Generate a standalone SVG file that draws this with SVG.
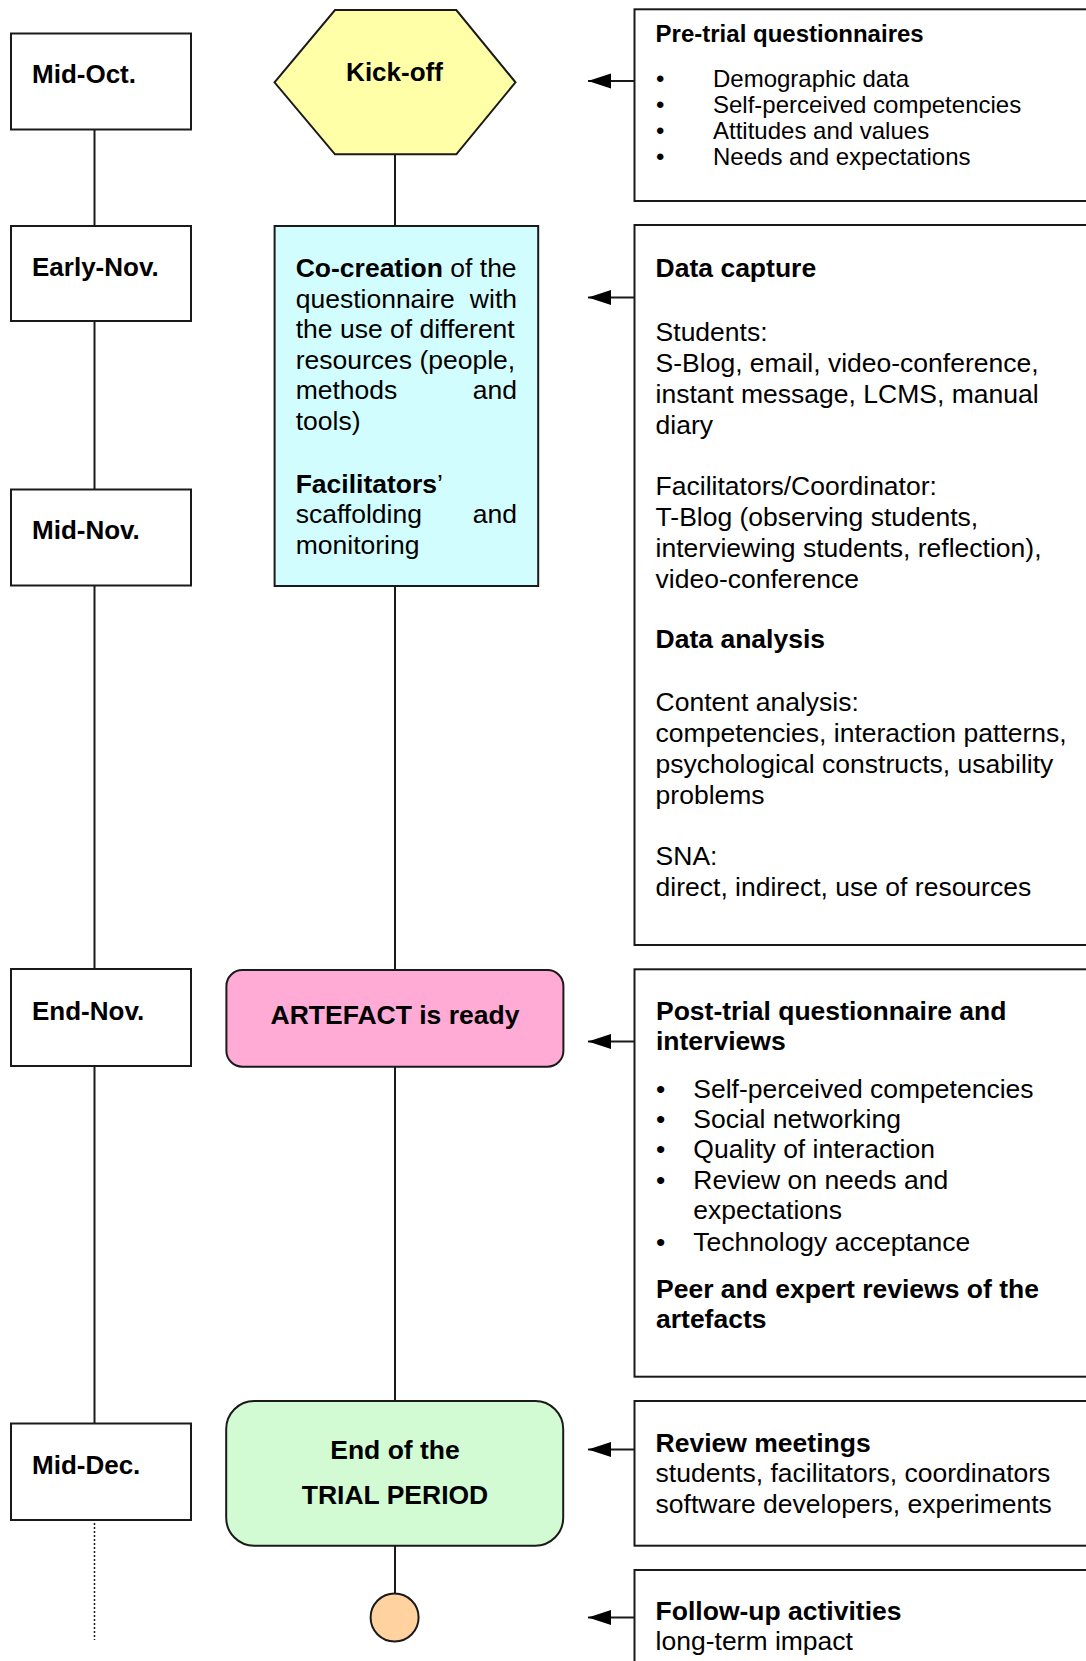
<svg xmlns="http://www.w3.org/2000/svg" width="1086" height="1661" viewBox="0 0 1086 1661">
  <defs>
    <style>
      .box { fill: #ffffff; stroke: #1a1a1a; stroke-width: 2; }
      .link { fill: none; stroke: #1a1a1a; stroke-width: 2; }
      .dotted { fill: none; stroke: #1a1a1a; stroke-width: 1.5; stroke-dasharray: 2 2; }
      .arrow { fill: none; stroke: #1a1a1a; stroke-width: 2; marker-end: url(#head); }
      text { font-family: "Liberation Sans", Arial, sans-serif; fill: #000000; }
      .date { font-size: 26px; font-weight: bold; }
      .title { font-size: 26.5px; font-weight: bold; }
      .body { font-size: 26.5px; }
      .small { font-size: 24px; }
      .smallb { font-size: 24px; font-weight: bold; }
      .b { font-weight: bold; }
      .mid { text-anchor: middle; }
      .end { text-anchor: end; }
    </style>
    <marker id="head" markerUnits="userSpaceOnUse" markerWidth="24" markerHeight="16" viewBox="0 0 24 16" refX="23" refY="8" orient="auto">
      <path d="M0,0.5 L23,8 L0,15.5 z" fill="#000000"/>
    </marker>
  </defs>

  <!-- connectors -->
  <g id="connectors">
    <!-- timeline on the left -->
    <line class="link" x1="94.5" y1="129.5" x2="94.5" y2="226"/>
    <line class="link" x1="94.5" y1="321" x2="94.5" y2="489.5"/>
    <line class="link" x1="94.5" y1="585.5" x2="94.5" y2="969"/>
    <line class="link" x1="94.5" y1="1066" x2="94.5" y2="1423.5"/>
    <line class="dotted" x1="94.5" y1="1523" x2="94.5" y2="1640"/>
    <!-- activity flow in the middle -->
    <line class="link" x1="395" y1="154" x2="395" y2="226"/>
    <line class="link" x1="395" y1="586" x2="395" y2="970"/>
    <line class="link" x1="395" y1="1067" x2="395" y2="1401"/>
    <line class="link" x1="395" y1="1546" x2="395" y2="1593.5"/>
    <!-- research activities pointing to the flow -->
    <line class="arrow" x1="634.5" y1="81" x2="588" y2="81"/>
    <line class="arrow" x1="634.5" y1="297.5" x2="588" y2="297.5"/>
    <line class="arrow" x1="634.5" y1="1041.5" x2="588" y2="1041.5"/>
    <line class="arrow" x1="634.5" y1="1449.5" x2="588" y2="1449.5"/>
    <line class="arrow" x1="634.5" y1="1617.5" x2="588" y2="1617.5"/>
  </g>

  <!-- dates -->
  <g id="date-mid-oct">
    <rect class="box" x="11" y="33.5" width="180" height="96"/>
    <text class="date" x="32" y="83">Mid-Oct.</text>
  </g>
  <g id="date-early-nov">
    <rect class="box" x="11" y="226" width="180" height="95"/>
    <text class="date" x="32" y="275.5">Early-Nov.</text>
  </g>
  <g id="date-mid-nov">
    <rect class="box" x="11" y="489.5" width="180" height="96"/>
    <text class="date" x="32" y="539">Mid-Nov.</text>
  </g>
  <g id="date-end-nov">
    <rect class="box" x="11" y="969" width="180" height="97"/>
    <text class="date" x="32" y="1019.5">End-Nov.</text>
  </g>
  <g id="date-mid-dec">
    <rect class="box" x="11" y="1423.5" width="180" height="96.5"/>
    <text class="date" x="32" y="1474">Mid-Dec.</text>
  </g>

  <!-- activity flow -->
  <g id="kick-off">
    <polygon points="274.5,82.3 335,10 456.3,10 515.5,82.3 456.3,154.3 335,154.3" fill="#ffffa8" stroke="#1a1a1a" stroke-width="2"/>
    <text class="date mid" x="394.5" y="80.5">Kick-off</text>
  </g>
  <g id="co-creation">
    <rect x="274.6" y="226" width="263.6" height="360" fill="#d2fdfe" stroke="#1a1a1a" stroke-width="2"/>
    <text class="body" x="295.7" y="277"><tspan class="b">Co-creation</tspan> of the</text>
    <text class="body" x="295.7" y="307.5">questionnaire</text>
    <text class="body end" x="517" y="307.5">with</text>
    <text class="body" x="295.7" y="338">the use of different</text>
    <text class="body" x="295.7" y="368.5">resources (people,</text>
    <text class="body" x="295.7" y="399">methods</text>
    <text class="body end" x="517" y="399">and</text>
    <text class="body" x="295.7" y="429.5">tools)</text>
    <text class="body" x="295.7" y="492.5"><tspan class="b">Facilitators</tspan>’</text>
    <text class="body" x="295.7" y="523">scaffolding</text>
    <text class="body end" x="517" y="523">and</text>
    <text class="body" x="295.7" y="553.5">monitoring</text>
  </g>
  <g id="artefact-ready">
    <rect x="226.4" y="970" width="337" height="96.7" rx="16" ry="16" fill="#ffabd6" stroke="#1a1a1a" stroke-width="2"/>
    <text class="title mid" x="395" y="1024">ARTEFACT is ready</text>
  </g>
  <g id="end-of-trial">
    <rect x="226.2" y="1401" width="337" height="144.7" rx="28" ry="28" fill="#d3fbd3" stroke="#1a1a1a" stroke-width="2"/>
    <text class="title mid" x="395" y="1458.5">End of the</text>
    <text class="title mid" x="395" y="1504">TRIAL PERIOD</text>
  </g>
  <g id="end-point">
    <circle cx="394.6" cy="1617.5" r="24" fill="#ffd2a0" stroke="#1a1a1a" stroke-width="2"/>
  </g>

  <!-- research activities -->
  <g id="pre-trial">
    <rect class="box" x="634.5" y="9.3" width="470" height="191.7"/>
    <text class="smallb" x="655.6" y="42">Pre-trial questionnaires</text>
    <text class="small" x="656" y="87">•</text>
    <text class="small" x="713" y="87">Demographic data</text>
    <text class="small" x="656" y="113">•</text>
    <text class="small" x="713" y="113">Self-perceived competencies</text>
    <text class="small" x="656" y="139">•</text>
    <text class="small" x="713" y="139">Attitudes and values</text>
    <text class="small" x="656" y="165">•</text>
    <text class="small" x="713" y="165">Needs and expectations</text>
  </g>
  <g id="data-capture">
    <rect class="box" x="634.5" y="225" width="470" height="720"/>
    <text class="title" x="655.6" y="277">Data capture</text>
    <text class="body" x="655.6" y="341">Students:</text>
    <text class="body" x="655.6" y="371.8">S-Blog, email, video-conference,</text>
    <text class="body" x="655.6" y="402.7">instant message, LCMS, manual</text>
    <text class="body" x="655.6" y="433.5">diary</text>
    <text class="body" x="655.6" y="495.2">Facilitators/Coordinator:</text>
    <text class="body" x="655.6" y="526.1">T-Blog (observing students,</text>
    <text class="body" x="655.6" y="557">interviewing students, reflection),</text>
    <text class="body" x="655.6" y="587.8">video-conference</text>
    <text class="title" x="655.6" y="648">Data analysis</text>
    <text class="body" x="655.6" y="711.2">Content analysis:</text>
    <text class="body" x="655.6" y="742">competencies, interaction patterns,</text>
    <text class="body" x="655.6" y="772.9">psychological constructs, usability</text>
    <text class="body" x="655.6" y="803.7">problems</text>
    <text class="body" x="655.6" y="865.4">SNA:</text>
    <text class="body" x="655.6" y="896.3">direct, indirect, use of resources</text>
  </g>
  <g id="post-trial">
    <rect class="box" x="634.5" y="969.3" width="470" height="407.4"/>
    <text class="title" x="656" y="1020">Post-trial questionnaire and</text>
    <text class="title" x="656" y="1050">interviews</text>
    <text class="body" x="656" y="1097.7">•</text>
    <text class="body" x="693.3" y="1097.7">Self-perceived competencies</text>
    <text class="body" x="656" y="1128">•</text>
    <text class="body" x="693.3" y="1128">Social networking</text>
    <text class="body" x="656" y="1158.3">•</text>
    <text class="body" x="693.3" y="1158.3">Quality of interaction</text>
    <text class="body" x="656" y="1188.5">•</text>
    <text class="body" x="693.3" y="1188.5">Review on needs and</text>
    <text class="body" x="693.3" y="1218.7">expectations</text>
    <text class="body" x="656" y="1250.5">•</text>
    <text class="body" x="693.3" y="1250.5">Technology acceptance</text>
    <text class="title" x="656" y="1298">Peer and expert reviews of the</text>
    <text class="title" x="656" y="1328">artefacts</text>
  </g>
  <g id="review-meetings">
    <rect class="box" x="634.5" y="1401" width="470" height="144.7"/>
    <text class="title" x="655.6" y="1452">Review meetings</text>
    <text class="body" x="655.6" y="1482">students, facilitators, coordinators</text>
    <text class="body" x="655.6" y="1513">software developers, experiments</text>
  </g>
  <g id="follow-up">
    <rect class="box" x="634.5" y="1570" width="470" height="200"/>
    <text class="title" x="655.6" y="1619.5">Follow-up activities</text>
    <text class="body" x="655.6" y="1650">long-term impact</text>
  </g>
</svg>
